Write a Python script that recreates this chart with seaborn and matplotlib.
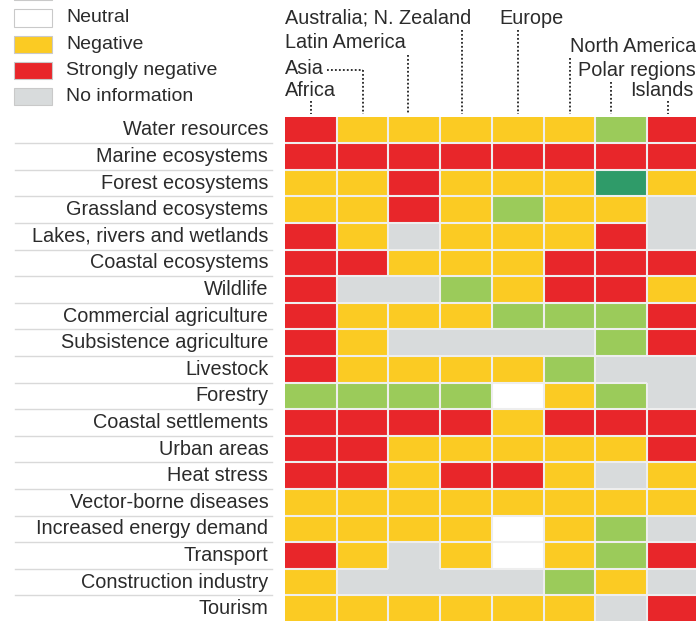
import numpy as np
import matplotlib
matplotlib.use("Agg")
import matplotlib.pyplot as plt
import matplotlib.transforms as mtrans
from matplotlib.colors import ListedColormap, BoundaryNorm
from matplotlib.collections import LineCollection
from matplotlib.patches import Rectangle
import seaborn as sns

# --- data ---
regions = ["Africa", "Asia", "Latin America", "Australia; N. Zealand",
           "Europe", "North America", "Polar regions", "Islands"]
sectors = ["Water resources", "Marine ecosystems", "Forest ecosystems",
           "Grassland ecosystems", "Lakes, rivers and wetlands",
           "Coastal ecosystems", "Wildlife", "Commercial agriculture",
           "Subsistence agriculture", "Livestock", "Forestry",
           "Coastal settlements", "Urban areas", "Heat stress",
           "Vector-borne diseases", "Increased energy demand", "Transport",
           "Construction industry", "Tourism"]
# D strongly positive, G positive, W neutral, Y negative,
# R strongly negative, N no information  (one letter per region)
impacts = ["RYYYYYGR",
           "RRRRRRRR",
           "YYRYYYDY",
           "YYRYGYYN",
           "RYNYYYRN",
           "RRYYYRRR",
           "RNNGYRRY",
           "RYYYGGGR",
           "RYNNNNGR",
           "RYYYYGNN",
           "GGGGWYGN",
           "RRRRYRRR",
           "RRYYYYYR",
           "RRYRRYNY",
           "YYYYYYYY",
           "YYYYWYGN",
           "RYNYWYGR",
           "YNNNNGYN",
           "YYYYYYNR"]
legend_labels = ["Strongly positive", "Positive", "Neutral", "Negative",
                 "Strongly negative", "No information"]
legend_codes = ["D", "G", "W", "Y", "R", "N"]

# --- style ---
order = ["N", "R", "Y", "W", "G", "D"]
colors = {"N": "#d8dbdc", "R": "#e8262a", "Y": "#fbcb23", "W": "#ffffff",
          "G": "#9bcb5a", "D": "#2f9b69"}
txt = "#2b2b2b"
fs = 14.3
W, H = 696, 621

code_idx = {c: i for i, c in enumerate(order)}
mat = np.array([[code_idx[c] for c in row] for row in impacts])
cmap = ListedColormap([colors[c] for c in order])
norm = BoundaryNorm(np.arange(-0.5, len(order)), cmap.N)

plt.rcParams['font.family'] = ['Liberation Sans', 'DejaVu Sans']
fig = plt.figure(figsize=(W / 100, H / 100), dpi=100)
fig.patch.set_facecolor("white")

nrow, ncol = mat.shape
cell_w, cell_h = 51.7, 26.6
left_px, top_px = 285, 116.5
ax = fig.add_axes([left_px / W, 1 - (top_px + nrow * cell_h) / H,
                   ncol * cell_w / W, nrow * cell_h / H])

sns.heatmap(mat, cmap=cmap, norm=norm, cbar=False, linewidths=0,
            xticklabels=False, yticklabels=sectors, ax=ax)
ax.tick_params(left=False, bottom=False, pad=8.5)
for lab in ax.get_yticklabels():
    lab.set_fontsize(fs)
    lab.set_color(txt)
    lab.set_rotation(0)

# cell separators, left out between two "no information" cells
segs = []
for i in range(nrow):
    for j in range(ncol - 1):
        if not (impacts[i][j] == "N" and impacts[i][j + 1] == "N"):
            segs.append([(j + 1, i), (j + 1, i + 1)])
for i in range(nrow - 1):
    for j in range(ncol):
        if not (impacts[i][j] == "N" and impacts[i + 1][j] == "N"):
            segs.append([(j, i + 1), (j + 1, i + 1)])
ax.add_collection(LineCollection(segs, colors="#eeeeee", linewidths=1.5,
                                 capstyle="butt"))

# thin rules under the row labels
tr = mtrans.blended_transform_factory(ax.transAxes, ax.transData)
x0 = (15 - left_px) / (ncol * cell_w)
x1 = (272 - left_px) / (ncol * cell_w)
for i in range(1, nrow):
    ax.plot([x0, x1], [i, i], color="#d9d9d9", lw=1, transform=tr,
            clip_on=False)

# column headers with dotted leaders
hdr = mtrans.blended_transform_factory(ax.transData, fig.transFigure)
fy = lambda y: 1 - y / H
fx = lambda x: x / W
head_pos = [(285, 91, "left"), (285, 68, "left"), (285, 43, "left"),
            (285, 18, "left"), (499, 18, "left"), (570, 46, "left"),
            (578, 70, "left"), (694, 91, "right")]
lead_top = [101, 70, 55, 30, 30, 58, 82, 101]
lead_dx = [0, 0, -0.12, -0.08, 0, 0.02, -0.2, -0.1]
dots = dict(color="#222222", lw=1.3, linestyle=(0, (1, 1.2)), transform=hdr,
            clip_on=False)
for j, name in enumerate(regions):
    x, y, ha = head_pos[j]
    fig.text(fx(x), fy(y), name, ha=ha, va="center", fontsize=fs, color=txt)
    xc = j + 0.5 + lead_dx[j]
    ax.plot([xc, xc], [fy(lead_top[j]), fy(114)], **dots)
# Asia leader runs sideways first
ax.plot([(327 - left_px) / cell_w, 1.5], [fy(70), fy(70)], **dots)

# legend
for k, (lab, c) in enumerate(zip(legend_labels, legend_codes)):
    yc = 18 + (k - 2) * 26.3
    fig.patches.append(Rectangle((fx(14), fy(yc + 8.5)), 38 / W, 17 / H,
                                 transform=fig.transFigure, facecolor=colors[c],
                                 edgecolor="#c9c9c9", lw=0.8))
    if yc > 5:
        fig.text(fx(66), fy(yc), lab, ha="left", va="center", fontsize=14,
                 color=txt)

fig.savefig("out.png", dpi=100)
